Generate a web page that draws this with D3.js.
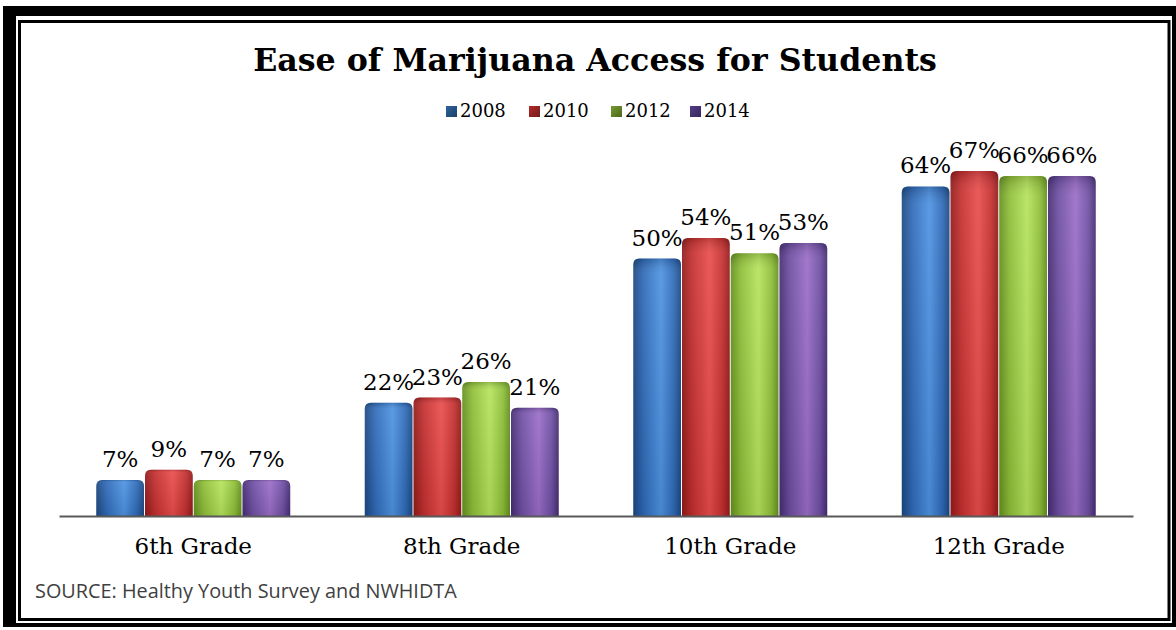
<!DOCTYPE html>
<html><head><meta charset="utf-8">
<script src="https://cdn.jsdelivr.net/npm/d3@7"></script>
<style>html,body{margin:0;padding:0;background:#fff;}svg{display:block;}</style>
</head><body>
<svg id="chart" width="1176" height="630"></svg>
<script>
const categories = ["6th Grade", "8th Grade", "10th Grade", "12th Grade"];
const years = ["2008", "2010", "2012", "2014"];
const values2008 = [7, 22, 50, 64];
const values2010 = [9, 23, 54, 67];
const values2012 = [7, 26, 51, 66];
const values2014 = [7, 21, 53, 66];
const seriesValues = [values2008, values2010, values2012, values2014];
const title = "Ease of Marijuana Access for Students";
const source = "SOURCE: Healthy Youth Survey and NWHIDTA";

const colors = {
  "2008": {dark: "#1b4880", mid: "#2f6ab8", light: "#4d93e2", legend: "#24507f"},
  "2010": {dark: "#921a1a", mid: "#c42f2f", light: "#e94c4c", legend: "#8e2222"},
  "2012": {dark: "#64901f", mid: "#8ebf38", light: "#b4e35c", legend: "#5f7d26"},
  "2014": {dark: "#452c72", mid: "#6e4ea3", light: "#9a6dc8", legend: "#43306e"}
};

const svg = d3.select("#chart");
const defs = svg.append("defs");
years.forEach(y => {
  const g = defs.append("linearGradient").attr("id", "g" + y).attr("x1", "0").attr("x2", "1").attr("y1", "0").attr("y2", "0");
  g.append("stop").attr("offset", "0%").attr("stop-color", colors[y].dark);
  g.append("stop").attr("offset", "22%").attr("stop-color", colors[y].mid);
  g.append("stop").attr("offset", "58%").attr("stop-color", colors[y].light);
  g.append("stop").attr("offset", "85%").attr("stop-color", colors[y].mid);
  g.append("stop").attr("offset", "100%").attr("stop-color", colors[y].dark);
  const lg = defs.append("linearGradient").attr("id", "lg" + y).attr("x1", "0").attr("x2", "1").attr("y1", "0").attr("y2", "1");
  lg.append("stop").attr("offset", "0%").attr("stop-color", d3.color(colors[y].legend).brighter(0.6));
  lg.append("stop").attr("offset", "100%").attr("stop-color", d3.color(colors[y].legend).darker(0.6));
});
const vg = defs.append("linearGradient").attr("id", "vshade").attr("x1", "0").attr("x2", "0").attr("y1", "0").attr("y2", "1");
vg.append("stop").attr("offset", "0%").attr("stop-color", "#000").attr("stop-opacity", 0.18);
vg.append("stop").attr("offset", "6%").attr("stop-color", "#fff").attr("stop-opacity", 0.08);
vg.append("stop").attr("offset", "100%").attr("stop-color", "#000").attr("stop-opacity", 0.08);

// Frame
svg.append("rect").attr("x", 3).attr("y", 6).attr("width", 1176 - 3).attr("height", 627 - 6).attr("fill", "#000");
svg.append("rect").attr("x", 16).attr("y", 16).attr("width", 1172 - 16).attr("height", 623 - 16).attr("fill", "#fff");
svg.append("rect").attr("x", 19.5).attr("y", 21.5).attr("width", 1169 - 19.5).attr("height", 619.5 - 21.5)
  .attr("fill", "none").attr("stroke", "#000").attr("stroke-width", 3);

// Title
const t = svg.append("text").attr("x", 595).attr("y", 71).attr("text-anchor", "middle")
  .attr("font-family", "'DejaVu Serif', serif").attr("font-weight", "bold").attr("font-size", 30)
  .attr("fill", "#000").text(title);
const tw = t.node().getComputedTextLength();
t.attr("font-size", 30 * 684 / tw);

// Legend
const legendX = [446, 529, 611, 690];
years.forEach((y, i) => {
  svg.append("rect").attr("x", legendX[i]).attr("y", 106).attr("width", 11).attr("height", 11)
    .attr("fill", "url(#lg" + y + ")");
  svg.append("text").attr("x", legendX[i] + 14).attr("y", 117).attr("font-family", "'DejaVu Serif', serif")
    .attr("font-size", 18).attr("fill", "#000").text(y);
});

// Scales
const x0 = d3.scaleBand().domain(categories).range([59, 1133]).paddingInner(0.2775).paddingOuter(0.13875);
const x1 = d3.scaleBand().domain(years).range([0, x0.bandwidth()]).paddingInner(0.02);
const y = d3.scaleLinear().domain([0, 80]).range([516, 104]);

function barPath(x, yTop, w, h) {
  const r = Math.min(6, h / 2);
  return `M${x},${yTop + h} L${x},${yTop + r} Q${x},${yTop} ${x + r},${yTop} L${x + w - r},${yTop} Q${x + w},${yTop} ${x + w},${yTop + r} L${x + w},${yTop + h} Z`;
}

const groups = svg.append("g").selectAll("g").data(categories).join("g")
  .attr("transform", d => `translate(${x0(d)},0)`);
years.forEach((yr, si) => {
  groups.append("path")
    .attr("d", (d, ci) => barPath(x1(yr), y(seriesValues[si][ci]), x1.bandwidth(), y(0) - y(seriesValues[si][ci])))
    .attr("fill", "url(#g" + yr + ")");
  groups.append("path")
    .attr("d", (d, ci) => barPath(x1(yr), y(seriesValues[si][ci]), x1.bandwidth(), y(0) - y(seriesValues[si][ci])))
    .attr("fill", "url(#vshade)");
  groups.append("text")
    .attr("x", x1(yr) + x1.bandwidth() / 2)
    .attr("y", (d, ci) => y(seriesValues[si][ci]) - 13)
    .attr("text-anchor", "middle").attr("font-family", "'DejaVu Serif', serif").attr("font-size", 23)
    .attr("fill", "#000").text((d, ci) => seriesValues[si][ci] + "%");
});

// Axis
const xAxis = d3.axisBottom(x0).tickSize(0).tickPadding(22);
const ax = svg.append("g").attr("transform", "translate(0,516)").call(xAxis);
ax.select(".domain").attr("stroke", "#595959").attr("stroke-width", 2);
ax.selectAll("text").attr("font-family", "'DejaVu Serif', serif").attr("font-size", 23).attr("fill", "#000")
  .attr("dy", "0.71em");

// Source
const s = svg.append("text").attr("x", 35).attr("y", 598).attr("font-family", "'Open Sans', sans-serif")
  .attr("font-size", 17).attr("fill", "#404040").text(source);
const sw = s.node().getComputedTextLength();
s.attr("font-size", 17 * 422 / sw);
</script>
</body></html>
